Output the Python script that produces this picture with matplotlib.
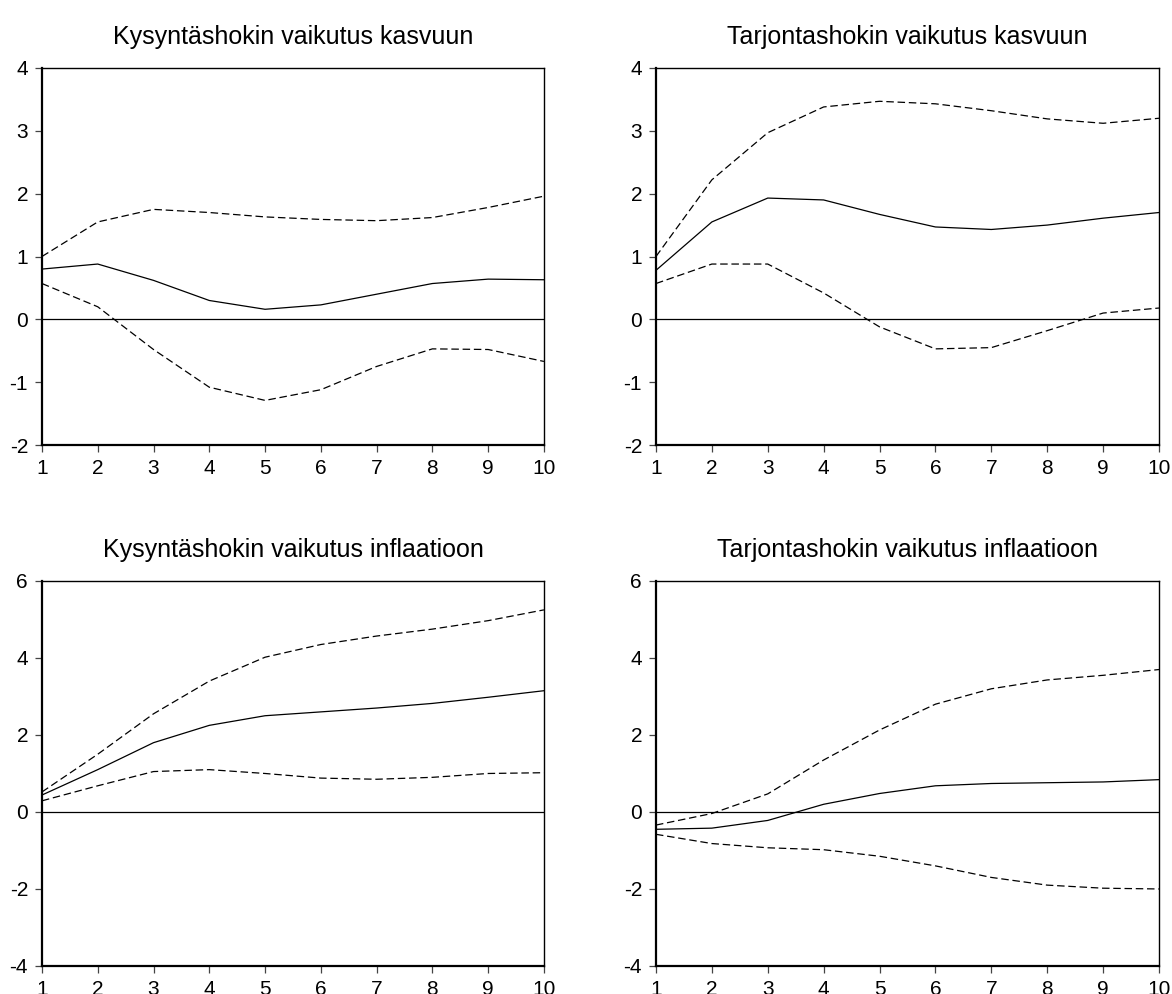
import matplotlib.pyplot as plt
import numpy as np

plt.rcParams['font.family'] = ['Liberation Sans', 'DejaVu Sans']
plt.rcParams['axes.unicode_minus'] = False

periods = np.arange(1, 11)

titles = ['Kysyntäshokin vaikutus kasvuun', 'Tarjontashokin vaikutus kasvuun',
          'Kysyntäshokin vaikutus inflaatioon', 'Tarjontashokin vaikutus inflaatioon']

# kysyntä -> kasvu
dg_mid = [0.80, 0.88, 0.62, 0.30, 0.16, 0.23, 0.40, 0.57, 0.64, 0.63]
dg_hi = [1.00, 1.55, 1.75, 1.70, 1.63, 1.59, 1.57, 1.62, 1.78, 1.96]
dg_lo = [0.57, 0.20, -0.48, -1.08, -1.29, -1.12, -0.75, -0.47, -0.48, -0.67]

# tarjonta -> kasvu
sg_mid = [0.78, 1.55, 1.93, 1.90, 1.67, 1.47, 1.43, 1.50, 1.61, 1.70]
sg_hi = [1.00, 2.22, 2.97, 3.38, 3.47, 3.43, 3.32, 3.19, 3.12, 3.20]
sg_lo = [0.57, 0.88, 0.88, 0.42, -0.12, -0.47, -0.45, -0.18, 0.10, 0.18]

# kysyntä -> inflaatio
di_mid = [0.44, 1.10, 1.80, 2.25, 2.50, 2.60, 2.70, 2.82, 2.98, 3.15]
di_hi = [0.52, 1.50, 2.55, 3.40, 4.02, 4.35, 4.57, 4.75, 4.97, 5.25]
di_lo = [0.29, 0.68, 1.05, 1.10, 1.00, 0.88, 0.85, 0.90, 1.00, 1.02]

# tarjonta -> inflaatio
si_mid = [-0.45, -0.42, -0.22, 0.20, 0.48, 0.68, 0.74, 0.76, 0.78, 0.84]
si_hi = [-0.34, -0.04, 0.47, 1.35, 2.13, 2.80, 3.20, 3.43, 3.55, 3.70]
si_lo = [-0.58, -0.82, -0.93, -0.98, -1.15, -1.40, -1.70, -1.90, -1.98, -2.00]

panels = [(dg_mid, dg_hi, dg_lo), (sg_mid, sg_hi, sg_lo),
          (di_mid, di_hi, di_lo), (si_mid, si_hi, si_lo)]
ylims = [(-2, 4), (-2, 4), (-4, 6), (-4, 6)]
yticks = [np.arange(-2, 5, 1), np.arange(-2, 5, 1), np.arange(-4, 7, 2), np.arange(-4, 7, 2)]

rects = [[0.0358, 0.5523, 0.4283, 0.3793], [0.5597, 0.5523, 0.4292, 0.3793],
         [0.0358, 0.0282, 0.4283, 0.3873], [0.5597, 0.0282, 0.4292, 0.3873]]

fig = plt.figure(figsize=(11.72, 9.94), dpi=100)
for i in range(4):
    ax = fig.add_axes(rects[i])
    mid, hi, lo = panels[i]
    ax.axhline(0, color='black', lw=0.9)
    ax.plot(periods, hi, color='black', lw=0.9, ls=(0, (6, 3)))
    ax.plot(periods, lo, color='black', lw=0.9, ls=(0, (6, 3)))
    ax.plot(periods, mid, color='black', lw=0.9)
    ax.set_xlim(1, 10)
    ax.set_ylim(*ylims[i])
    ax.set_xticks(periods)
    ax.set_yticks(yticks[i])
    ax.tick_params(direction='out', length=5, width=0.9, color='#444444',
                   labelsize=15, pad=5, top=False, right=False)
    for s in ax.spines.values():
        s.set_linewidth(1.0)
    ax.spines['left'].set_linewidth(1.6)
    ax.spines['bottom'].set_linewidth(1.6)
    ax.set_title(titles[i], fontsize=18, pad=17)

fig.savefig('out.png', dpi=100)
